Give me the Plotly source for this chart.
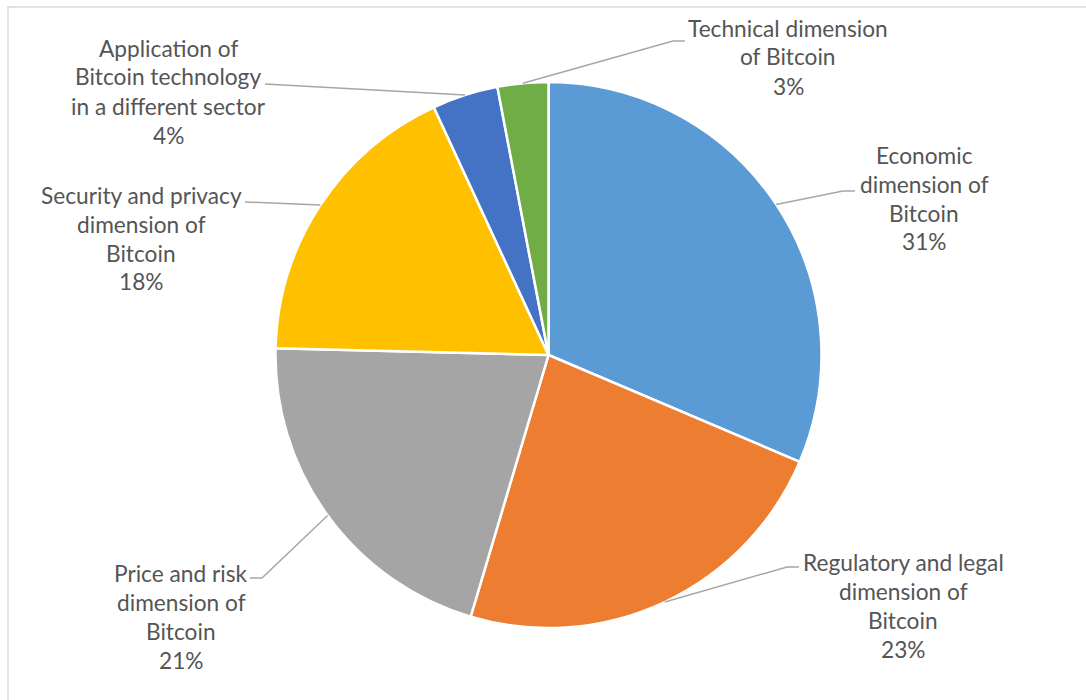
import math
import plotly.graph_objects as go

# ---------------- data ----------------
categories = [
    "Economic dimension of Bitcoin",
    "Regulatory and legal dimension of Bitcoin",
    "Price and risk dimension of Bitcoin",
    "Security and privacy dimension of Bitcoin",
    "Application of Bitcoin technology in a different sector",
    "Technical dimension of Bitcoin",
]
label_lines = [
    ["Economic", "dimension of", "Bitcoin"],
    ["Regulatory and legal", "dimension of", "Bitcoin"],
    ["Price and risk", "dimension of", "Bitcoin"],
    ["Security and privacy", "dimension of", "Bitcoin"],
    ["Application of", "Bitcoin technology", "in a different sector"],
    ["Technical dimension", "of Bitcoin"],
]
shares = [31.4, 23.2, 20.8, 17.7, 3.9, 3.0]
colors = ["#5B9BD5", "#ED7D31", "#A5A5A5", "#FFC000", "#4472C4", "#70AD47"]

# ---------------- layout constants ----------------
W, H = 1086, 700
CX, CY, R = 548.5, 355.0, 273.0
FONT = "Lato"
FSIZE = 22.7
LINE_GAP = 29
TEXT_COLOR = "#555555"
LEADER_COLOR = "#A6A6A6"

# label block: centre x, first-line centre y (pixels)
label_pos = [(924, 155), (903, 562), (181, 573), (141, 195), (168, 48), (788, 28)]
# leader path after the slice-edge point (pixels)
leader_tail = [
    [(843, 191), (855, 191)],
    [(787, 567), (799, 567)],
    [(262, 578), (250, 578)],
    [(245, 202)],
    [(265, 84)],
    [(673, 41), (685, 41)],
]


def px(x):
    return x / W


def py(y):
    return 1 - y / H


fig = go.Figure(
    go.Pie(
        labels=categories,
        values=shares,
        sort=False,
        direction="clockwise",
        rotation=0,
        marker=dict(colors=colors, line=dict(color="white", width=2.5)),
        textinfo="none",
        hoverinfo="label+percent",
        showlegend=False,
        domain=dict(x=[px(CX - R), px(CX + R)], y=[py(CY + R), py(CY - R)]),
    )
)

total = sum(shares)
annotations = []
shapes = []
cum = 0.0
for i, v in enumerate(shares):
    mid = (cum + v / 2) / total * 2 * math.pi
    cum += v
    ex = CX + R * math.sin(mid)
    ey = CY - R * math.cos(mid)
    pts = [(ex, ey)] + leader_tail[i]
    path = "M " + " L ".join(f"{px(x)},{py(y)}" for x, y in pts)
    shapes.append(dict(type="path", xref="paper", yref="paper", path=path,
                       line=dict(color=LEADER_COLOR, width=1.5)))
    lines = label_lines[i] + [f"{round(v / total * 100)}%"]
    lx, ly = label_pos[i]
    for k, t in enumerate(lines):
        annotations.append(dict(
            text=t, x=px(lx), y=py(ly + k * LINE_GAP), xref="paper", yref="paper",
            xanchor="center", yanchor="middle", showarrow=False,
            font=dict(family=FONT, size=FSIZE, color=TEXT_COLOR),
        ))

# chart-area frame
shapes.append(dict(type="rect", xref="paper", yref="paper",
                   x0=px(8), y0=py(710), x1=px(1095), y1=py(7),
                   line=dict(color="#D9D9D9", width=1.5), layer="below"))

fig.update_layout(
    width=W, height=H,
    margin=dict(l=0, r=0, t=0, b=0),
    paper_bgcolor="white", plot_bgcolor="white",
    shapes=shapes, annotations=annotations,
)

fig.write_html("out.html")
